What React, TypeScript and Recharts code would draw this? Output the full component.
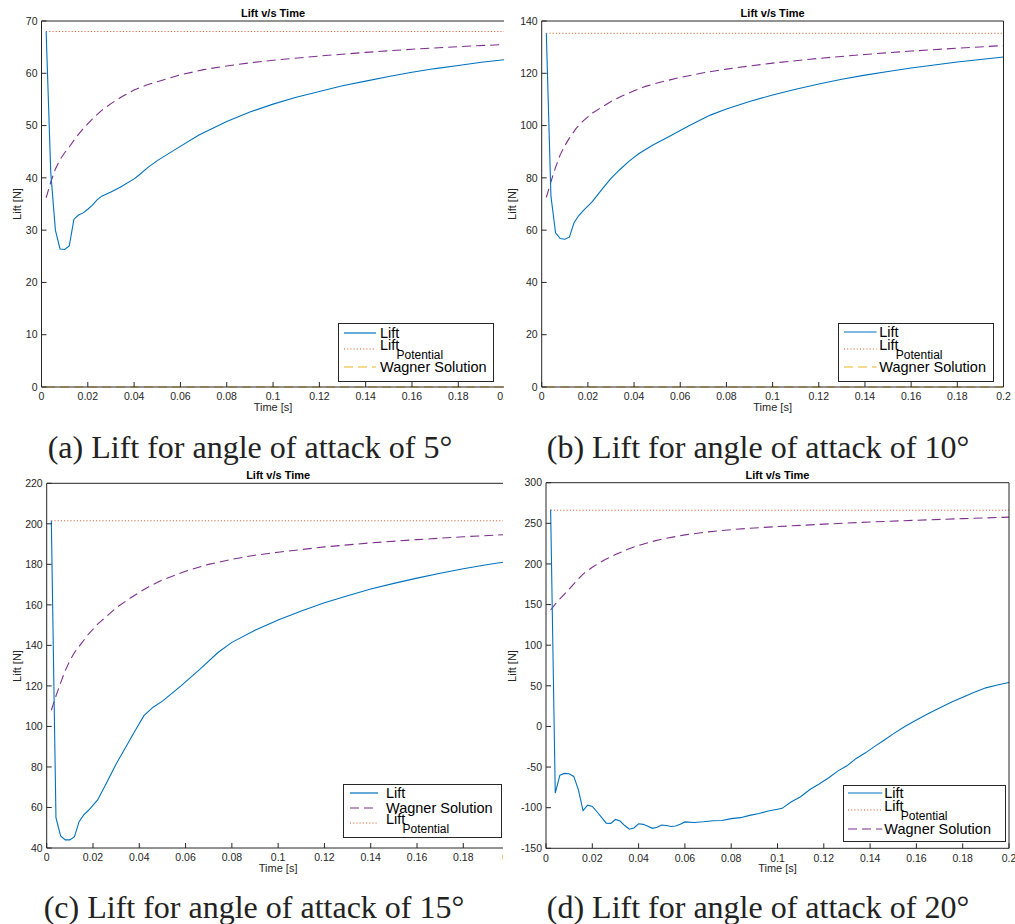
import React from 'react';
import { LineChart, Line, XAxis, YAxis } from 'recharts';

const BLUE = '#0072BD';
const ORANGE = '#D95319';
const YELLOW = '#EDB120';
const PURPLE = '#7E2F8E';
const INK = '#262626';
const SANS = '"Liberation Sans", Arial, Helvetica, sans-serif';
const SERIF = '"Liberation Serif", "Times New Roman", serif';

const timeTicks = [0, 0.02, 0.04, 0.06, 0.08, 0.1, 0.12, 0.14, 0.16, 0.18, 0.2];
const flatSpan = [0.002, 0.2];

// (a) angle of attack 5 deg
const liftTime5 = [0.002, 0.004, 0.006, 0.008, 0.01, 0.012, 0.014, 0.016, 0.018, 0.02, 0.022, 0.024, 0.026, 0.03, 0.034, 0.04, 0.042, 0.046, 0.05, 0.058, 0.068, 0.08, 0.09, 0.1, 0.11, 0.12, 0.13, 0.14, 0.15, 0.16, 0.17, 0.18, 0.19, 0.2];
const lift5 = [68, 41, 30, 26.4, 26.3, 27, 32.1, 32.9, 33.3, 34, 34.8, 35.8, 36.5, 37.3, 38.2, 39.8, 40.5, 42, 43.3, 45.5, 48.2, 50.8, 52.6, 54.1, 55.4, 56.5, 57.6, 58.5, 59.4, 60.2, 60.9, 61.5, 62.1, 62.6];
const curveTime5 = [0.002, 0.004, 0.006, 0.008, 0.01, 0.012, 0.015, 0.018, 0.022, 0.026, 0.03, 0.035, 0.04, 0.045, 0.05, 0.06, 0.07, 0.08, 0.09, 0.1, 0.12, 0.14, 0.16, 0.18, 0.2];
const curve5 = [36.2, 39.2, 41.7, 43.5, 44.8, 45.9, 47.8, 49.4, 51.3, 52.9, 54.2, 55.6, 56.8, 57.7, 58.4, 59.7, 60.7, 61.4, 62, 62.5, 63.3, 64, 64.6, 65.1, 65.5];
const potential5 = 68;
const wagner5 = 0;

// (b) angle of attack 10 deg
const liftTime10 = [0.002, 0.004, 0.006, 0.008, 0.01, 0.012, 0.014, 0.016, 0.018, 0.022, 0.026, 0.03, 0.034, 0.038, 0.042, 0.048, 0.055, 0.064, 0.073, 0.08, 0.09, 0.1, 0.11, 0.12, 0.13, 0.14, 0.15, 0.16, 0.17, 0.18, 0.19, 0.2];
const lift10 = [135.3, 73, 59, 56.8, 56.5, 57.3, 62.8, 65.5, 67.5, 71, 75.5, 79.8, 83.3, 86.5, 89.2, 92.5, 95.7, 100, 104, 106.3, 109.2, 111.7, 113.9, 115.9, 117.7, 119.3, 120.7, 122, 123.2, 124.3, 125.3, 126.2];
const curveTime10 = [0.002, 0.004, 0.006, 0.008, 0.01, 0.012, 0.015, 0.018, 0.022, 0.026, 0.03, 0.035, 0.04, 0.045, 0.05, 0.06, 0.07, 0.08, 0.09, 0.1, 0.12, 0.14, 0.16, 0.18, 0.2];
const curve10 = [72.5, 78.5, 84, 88.8, 92.3, 95.2, 99, 101.8, 104.8, 107, 109.2, 111.4, 113.3, 115, 116.3, 118.4, 120.2, 121.6, 122.8, 123.9, 125.7, 127.2, 128.5, 129.6, 130.6];
const potential10 = 135.3;
const wagner10 = 0;

// (c) angle of attack 15 deg
const liftTime15 = [0.002, 0.004, 0.006, 0.008, 0.01, 0.012, 0.014, 0.016, 0.018, 0.022, 0.026, 0.03, 0.034, 0.038, 0.042, 0.046, 0.05, 0.058, 0.066, 0.074, 0.08, 0.09, 0.1, 0.11, 0.12, 0.13, 0.14, 0.15, 0.16, 0.17, 0.18, 0.19, 0.2];
const lift15 = [201.5, 55, 46, 44, 44, 45.6, 53, 56.3, 58.5, 63.7, 72.5, 81.5, 89.5, 97.5, 105.3, 109.5, 112.5, 120, 128, 136.5, 141.5, 147.5, 152.5, 157, 161, 164.5, 167.8, 170.6, 173.2, 175.6, 177.8, 179.8, 181.5];
const wagnerTime15 = [0.002, 0.004, 0.006, 0.008, 0.01, 0.012, 0.015, 0.018, 0.022, 0.026, 0.03, 0.035, 0.04, 0.045, 0.05, 0.06, 0.07, 0.08, 0.09, 0.1, 0.12, 0.14, 0.16, 0.18, 0.2];
const wagner15 = [108, 115, 121.5, 127.5, 132.5, 136.5, 141, 145.5, 150.5, 154.5, 158.5, 162.5, 166.2, 169.5, 172.3, 176.6, 180, 182.5, 184.5, 186, 188.6, 190.6, 192.2, 193.6, 194.8];
const potential15 = 201.5;

// (d) angle of attack 20 deg
const liftTime20 = [0.002, 0.004, 0.006, 0.008, 0.01, 0.012, 0.014, 0.016, 0.018, 0.02, 0.022, 0.024, 0.026, 0.028, 0.03, 0.032, 0.034, 0.036, 0.038, 0.04, 0.042, 0.044, 0.046, 0.048, 0.05, 0.052, 0.054, 0.056, 0.058, 0.06, 0.064, 0.068, 0.072, 0.076, 0.08, 0.084, 0.088, 0.092, 0.096, 0.1, 0.102, 0.106, 0.11, 0.114, 0.118, 0.122, 0.126, 0.13, 0.134, 0.138, 0.142, 0.146, 0.15, 0.155, 0.16, 0.165, 0.17, 0.175, 0.18, 0.185, 0.19, 0.195, 0.2];
const lift20 = [267, -82, -60, -57.8, -58.3, -61.5, -78, -103.5, -97, -98.5, -105, -112, -119, -119.3, -114.5, -116.5, -122, -126.5, -125, -119.8, -120.5, -123, -125.4, -124, -121.3, -122, -123.2, -122.5, -120.5, -117.5, -118.3, -117.3, -116, -115.8, -113.5, -112.3, -109.5, -107.2, -104, -102, -100.8, -92.7, -86.5, -77.6, -70.9, -63.4, -55, -48.5, -39.4, -32.5, -24.5, -17, -9.2, 0, 7.9, 15.6, 22.6, 29.9, 36, 42.2, 47.5, 51, 54];
const wagnerTime20 = [0.002, 0.004, 0.006, 0.008, 0.01, 0.013, 0.016, 0.02, 0.025, 0.03, 0.035, 0.04, 0.045, 0.05, 0.06, 0.07, 0.08, 0.09, 0.1, 0.12, 0.14, 0.16, 0.18, 0.2];
const wagner20 = [143.3, 150.5, 157, 163, 169, 178.5, 187.5, 196, 204.5, 211.5, 217.8, 222.8, 227, 230.5, 235.8, 239.5, 242.2, 244.3, 246, 249, 251.6, 253.8, 255.8, 257.6];
const potential20 = 266;

const toPts = (ts: number[], vs: number[]) => ts.map((t, i) => ({ t, v: vs[i] }));
const flat = (v: number) => flatSpan.map((t) => ({ t, v }));

const DASH = '9 5';
const DOT = '1 2.2';

interface Series {
  data: { t: number; v: number }[];
  color: string;
  dash?: string;
}

interface LegendItem {
  label: string;
  sub?: string;
  color: string;
  dash?: string;
  y: number;
}

interface PanelCfg {
  box: [number, number, number, number]; // clip x, y, w, h on page
  chartW: number;
  plot: [number, number, number, number]; // plot x0, y0, x1, y1 on page
  yDomain: [number, number];
  yTicks: number[];
  series: Series[];
  legend: { x: number; y: number; w: number; h: number; sx0: number; sx1: number; tx: number; items: LegendItem[] };
  caption: string;
  captionX: number;
  captionY: number;
  yLabelX: number;
}

const panels: PanelCfg[] = [
  {
    box: [0, 0, 503.5, 425],
    chartW: 508,
    plot: [41.5, 21, 504.6, 387],
    yDomain: [0, 70],
    yTicks: [0, 10, 20, 30, 40, 50, 60, 70],
    series: [
      { data: flat(wagner5), color: YELLOW, dash: DASH },
      { data: flat(potential5), color: ORANGE, dash: DOT },
      { data: toPts(curveTime5, curve5), color: PURPLE, dash: DASH },
      { data: toPts(liftTime5, lift5), color: BLUE },
    ],
    legend: {
      x: 338.3, y: 323, w: 156, h: 59, sx0: 5.7, sx1: 37.7, tx: 41.7,
      items: [
        { label: 'Lift', color: BLUE, y: 9.7 },
        { label: 'Lift', sub: 'Potential', color: ORANGE, dash: DOT, y: 26.3 },
        { label: 'Wagner Solution', color: YELLOW, dash: DASH, y: 44.3 },
      ],
    },
    caption: '(a) Lift for angle of attack of 5°',
    captionX: 250,
    captionY: 447,
    yLabelX: 17,
  },
  {
    box: [508, 0, 507, 425],
    chartW: 507,
    plot: [541.7, 21, 1003.5, 387],
    yDomain: [0, 140],
    yTicks: [0, 20, 40, 60, 80, 100, 120, 140],
    series: [
      { data: flat(wagner10), color: YELLOW, dash: DASH },
      { data: flat(potential10), color: ORANGE, dash: DOT },
      { data: toPts(curveTime10, curve10), color: PURPLE, dash: DASH },
      { data: toPts(liftTime10, lift10), color: BLUE },
    ],
    legend: {
      x: 838.3, y: 323.3, w: 156, h: 58.4, sx0: 5.7, sx1: 38.3, tx: 41,
      items: [
        { label: 'Lift', color: BLUE, y: 8.7 },
        { label: 'Lift', sub: 'Potential', color: ORANGE, dash: DOT, y: 26 },
        { label: 'Wagner Solution', color: YELLOW, dash: DASH, y: 44 },
      ],
    },
    caption: '(b) Lift for angle of attack of 10°',
    captionX: 758,
    captionY: 447,
    yLabelX: 512,
  },
  {
    box: [0, 460, 503, 415],
    chartW: 512,
    plot: [46.7, 483.3, 509.6, 848],
    yDomain: [40, 220],
    yTicks: [40, 60, 80, 100, 120, 140, 160, 180, 200, 220],
    series: [
      { data: flat(potential15), color: ORANGE, dash: DOT },
      { data: toPts(wagnerTime15, wagner15), color: PURPLE, dash: DASH },
      { data: toPts(liftTime15, lift15), color: BLUE },
    ],
    legend: {
      x: 343.3, y: 784, w: 159, h: 54.3, sx0: 6.7, sx1: 35, tx: 42.7,
      items: [
        { label: 'Lift', color: BLUE, y: 9.3 },
        { label: 'Wagner Solution', color: PURPLE, dash: DASH, y: 24.3 },
        { label: 'Lift', sub: 'Potential', color: ORANGE, dash: DOT, y: 38.8 },
      ],
    },
    caption: '(c) Lift for angle of attack of 15°',
    captionX: 254,
    captionY: 907,
    yLabelX: 17,
  },
  {
    box: [508, 460, 507, 415],
    chartW: 510,
    plot: [546, 482.7, 1009, 848.3],
    yDomain: [-150, 300],
    yTicks: [-150, -100, -50, 0, 50, 100, 150, 200, 250, 300],
    series: [
      { data: flat(potential20), color: ORANGE, dash: DOT },
      { data: toPts(wagnerTime20, wagner20), color: PURPLE, dash: DASH },
      { data: toPts(liftTime20, lift20), color: BLUE },
    ],
    legend: {
      x: 843.3, y: 785, w: 162.4, h: 56.7, sx0: 5, sx1: 39.3, tx: 41,
      items: [
        { label: 'Lift', color: BLUE, y: 8.3 },
        { label: 'Lift', sub: 'Potential', color: ORANGE, dash: DOT, y: 25 },
        { label: 'Wagner Solution', color: PURPLE, dash: DASH, y: 43.7 },
      ],
    },
    caption: '(d) Lift for angle of attack of 20°',
    captionX: 758,
    captionY: 907,
    yLabelX: 512,
  },
];

const tickStyle = { fill: INK, fontSize: 10.5, fontFamily: SANS };
const fmtTime = (v: number) => String(Number(v.toFixed(2)));

function Legend({ lg }: { lg: PanelCfg['legend'] }) {
  return (
    <div
      style={{
        position: 'absolute',
        left: lg.x,
        top: lg.y,
        width: lg.w,
        height: lg.h,
        border: `1px solid ${INK}`,
        background: '#fff',
        boxSizing: 'border-box',
      }}
    >
      {lg.items.map((it, i) => (
        <React.Fragment key={i}>
          <svg
            width={lg.sx1 - lg.sx0}
            height={4}
            style={{ position: 'absolute', left: lg.sx0 - 1, top: it.y - 3 }}
          >
            <line x1={0} y1={2} x2={lg.sx1 - lg.sx0} y2={2} stroke={it.color} strokeWidth={1.2} strokeDasharray={it.dash} />
          </svg>
          <div
            style={{
              position: 'absolute',
              left: lg.tx - 1,
              top: it.y - 1 + (it.sub ? -4 : 0),
              transform: 'translateY(-50%)',
              fontFamily: SANS,
              fontSize: 14.5,
              lineHeight: 1,
              whiteSpace: 'nowrap',
              color: '#000',
            }}
          >
            {it.label}
          </div>
          {it.sub && (
            <div
              style={{
                position: 'absolute',
                left: lg.tx + 15.5,
                top: it.y - 1 + 6,
                transform: 'translateY(-50%)',
                fontFamily: SANS,
                fontSize: 12,
                lineHeight: 1,
                whiteSpace: 'nowrap',
                color: '#000',
              }}
            >
              {it.sub}
            </div>
          )}
        </React.Fragment>
      ))}
    </div>
  );
}

function Panel({ p }: { p: PanelCfg }) {
  const [bx, by, bw, bh] = p.box;
  const [x0, y0, x1, y1] = p.plot;
  const margin = {
    left: x0 - bx - 1,
    top: y0 - by - 1,
    right: bx + p.chartW - x1 - 1,
    bottom: by + bh - y1 - 1,
  };
  const cx = (x0 + x1) / 2;
  const textBase: React.CSSProperties = {
    position: 'absolute',
    fontFamily: SANS,
    color: INK,
    lineHeight: 1,
    whiteSpace: 'nowrap',
  };
  return (
    <>
      <div style={{ position: 'absolute', left: bx, top: by, width: bw, height: bh, overflow: 'hidden' }}>
        <LineChart width={p.chartW} height={bh} margin={margin}>
          <XAxis
            xAxisId="b"
            type="number"
            dataKey="t"
            domain={[0, 0.2]}
            ticks={timeTicks}
            interval={0}
            height={1}
            tickSize={-5}
            tickMargin={11}
            stroke={INK}
            tick={tickStyle}
            tickFormatter={fmtTime}
          />
          <XAxis
            xAxisId="top"
            orientation="top"
            type="number"
            dataKey="t"
            domain={[0, 0.2]}
            ticks={timeTicks}
            interval={0}
            height={1}
            tickSize={-5}
            tick={false}
            stroke={INK}
          />
          <YAxis
            yAxisId="l"
            type="number"
            domain={p.yDomain}
            ticks={p.yTicks}
            interval={0}
            width={1}
            tickSize={-5}
            tickMargin={9}
            stroke={INK}
            tick={tickStyle}
          />
          <YAxis
            yAxisId="r"
            orientation="right"
            type="number"
            domain={p.yDomain}
            ticks={p.yTicks}
            interval={0}
            width={1}
            tickSize={-5}
            tick={false}
            stroke={INK}
          />
          {p.series.map((s, i) => (
            <Line
              key={i}
              xAxisId="b"
              yAxisId="l"
              data={s.data}
              dataKey="v"
              type="linear"
              stroke={s.color}
              strokeWidth={1.1}
              strokeDasharray={s.dash}
              dot={false}
              activeDot={false}
              isAnimationActive={false}
            />
          ))}
        </LineChart>
      </div>
      <div style={{ ...textBase, left: cx, top: y0 - 8, transform: 'translate(-50%, -50%)', fontSize: 11, fontWeight: 'bold', color: '#000' }}>
        Lift v/s Time
      </div>
      <div style={{ ...textBase, left: cx, top: y1 + 20, transform: 'translate(-50%, -50%)', fontSize: 11 }}>
        Time [s]
      </div>
      <div
        style={{
          ...textBase,
          left: p.yLabelX,
          top: (y0 + y1) / 2,
          transform: 'translate(-50%, -50%) rotate(-90deg)',
          fontSize: 11,
        }}
      >
        Lift [N]
      </div>
      <Legend lg={p.legend} />
      <div
        style={{
          position: 'absolute',
          left: p.captionX,
          top: p.captionY,
          transform: 'translate(-50%, -50%)',
          fontFamily: SERIF,
          fontSize: 32,
          lineHeight: 1,
          whiteSpace: 'nowrap',
          color: '#222',
        }}
      >
        {p.caption}
      </div>
    </>
  );
}

export default function App() {
  return (
    <div
      style={{
        position: 'absolute',
        left: 0,
        top: 0,
        width: 1015,
        height: 924,
        overflow: 'hidden',
        background: '#fff',
      }}
    >
      {panels.map((p, i) => (
        <Panel key={i} p={p} />
      ))}
    </div>
  );
}
